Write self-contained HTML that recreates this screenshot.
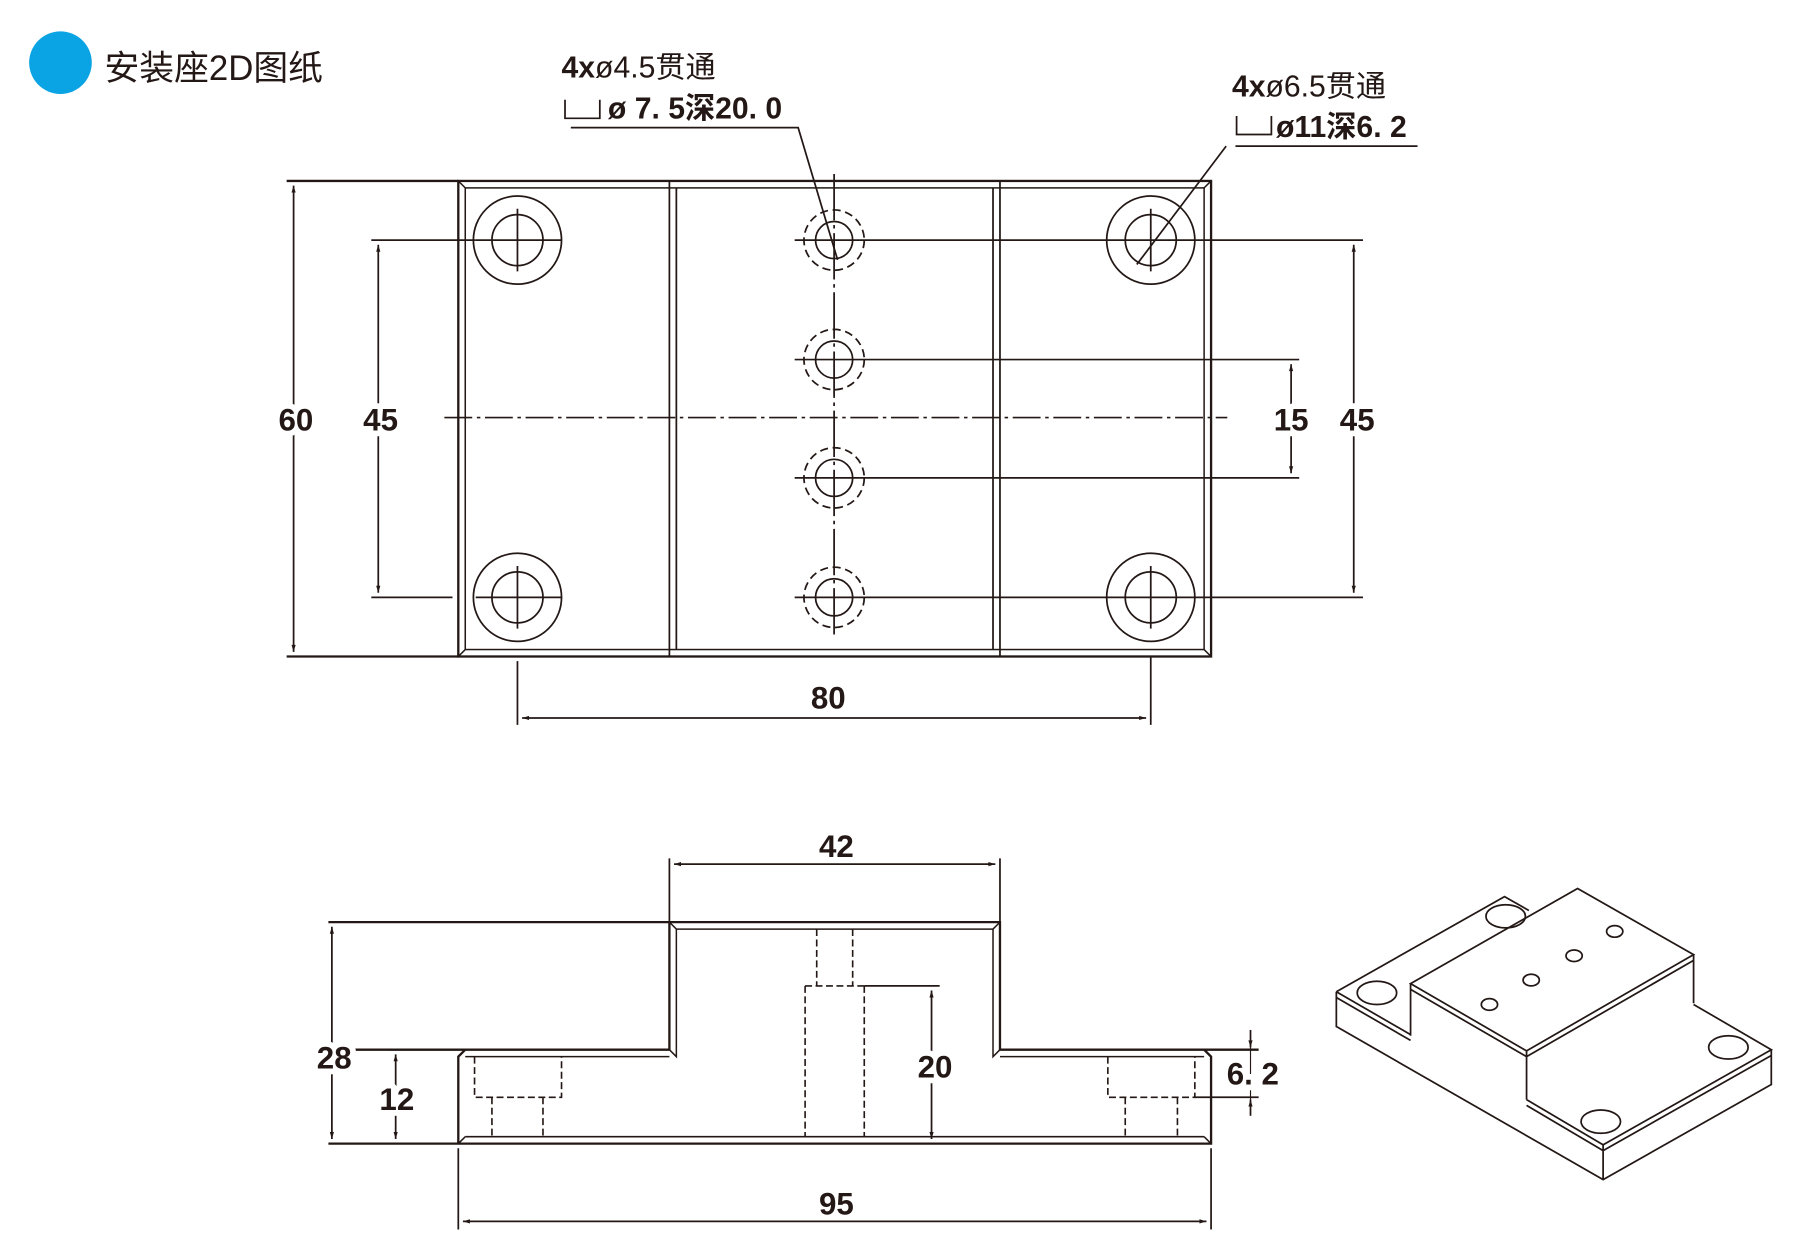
<!DOCTYPE html>
<html><head><meta charset="utf-8"><style>
html,body{margin:0;padding:0;background:#fff;}
svg{display:block;}
text{font-family:"Liberation Sans","Noto Sans CJK SC",sans-serif;fill:#231815;}
.d text{stroke:#fff;stroke-width:10px;paint-order:stroke;stroke-linejoin:round;}
</style></head><body>
<svg width="1819" height="1255" viewBox="0 0 1568 1082" xmlns="http://www.w3.org/2000/svg">
<defs>
<marker id="a" viewBox="0 0 10 10" refX="10" refY="5" markerWidth="10" markerHeight="6" orient="auto-start-reverse" markerUnits="userSpaceOnUse"><path d="M0,2 L10,5 L0,8 Z" fill="#231815"/></marker>
</defs>
<circle cx="52" cy="54" r="27" fill="#0aa3e3"/>
<text x="90" y="69" font-size="30">安装座2D图纸</text>

<g stroke="#231815" fill="none" stroke-width="2">
<rect x="395" y="156" width="649" height="410"/>
<rect x="401" y="162" width="637" height="398" stroke-width="1.3"/>
<path d="M395,156L401,162M1044,156L1038,162M395,566L401,560M1044,566L1038,560" stroke-width="1.3"/>
<path d="M577,156V566M583,162V560M856,162V560M862,156V566" stroke-width="1.5"/>
<path d="M247,156H395M247,566H395"/>
<line x1="253" y1="160" x2="253" y2="562" stroke-width="1.5" marker-start="url(#a)" marker-end="url(#a)"/>
<path d="M320,207H410M320,515H390" stroke-width="1.5"/>
<line x1="326" y1="211" x2="326" y2="511" stroke-width="1.5" marker-start="url(#a)" marker-end="url(#a)"/>
<g stroke-width="1.5">
<circle cx="446" cy="207" r="38"/><circle cx="446" cy="207" r="22"/>
<circle cx="446" cy="515" r="38"/><circle cx="446" cy="515" r="22"/>
<circle cx="992" cy="207" r="38"/><circle cx="992" cy="207" r="22"/>
<circle cx="992" cy="515" r="38"/><circle cx="992" cy="515" r="22"/>
<path d="M446,180V234M410,207H484M446,488V542M410,515H484M992,180V234M992,488V542M992,566V625M446,570V625"/>
</g>
<g stroke-width="1.5">
<circle cx="719" cy="207" r="16"/><circle cx="719" cy="207" r="26" stroke-dasharray="7,4"/>
<circle cx="719" cy="310" r="16"/><circle cx="719" cy="310" r="26" stroke-dasharray="7,4"/>
<circle cx="719" cy="412" r="16"/><circle cx="719" cy="412" r="26" stroke-dasharray="7,4"/>
<circle cx="719" cy="515" r="16"/><circle cx="719" cy="515" r="26" stroke-dasharray="7,4"/>
<path d="M685,207H1175M685,310H1120M685,412H1120M685,515H1175"/>
<line x1="719" y1="150" x2="719" y2="548" stroke-dasharray="40,4,3,4"/>
<line x1="383" y1="360" x2="1058" y2="360" stroke-dasharray="24,4,3,4"/>
</g>
<line x1="1113" y1="314" x2="1113" y2="408" stroke-width="1.5" marker-start="url(#a)" marker-end="url(#a)"/>
<line x1="1167" y1="211" x2="1167" y2="511" stroke-width="1.5" marker-start="url(#a)" marker-end="url(#a)"/>
<line x1="450" y1="619" x2="988" y2="619" stroke-width="1.5" marker-start="url(#a)" marker-end="url(#a)"/>
<path d="M492,110H688L722,224M1065,126H1222M1057,126L980,228" stroke-width="1.5"/>
<path d="M487,86V102H517V86M1066,100V116H1096V100" stroke-width="1.5"/>

<path d="M283,905H577V795M283,795H862V905H1085M283,986H1044V911L1038,905M395,986V911L401,905"/>
<path d="M577,795L583,801H856L862,795M583,801V911L577,905M856,801V911L862,905M401,911H577M862,911H1038M401,980H1038M395,986L401,980M1044,986L1038,980" stroke-width="1.3"/>
<g stroke-width="1.4" stroke-dasharray="6,3">
<path d="M409,911V946H484V911M424,946V980M468,946V980"/>
<path d="M955,911V946H1030V911M970,946V980M1015,946V980"/>
<path d="M704,801V850M735,801V850M694,850H745M694,850V980M745,850V980"/>
</g>
<path d="M745,850H810M1030,946H1085M335,905H395M577,740V800M862,740V800M395,990V1060M1044,990V1060" stroke-width="1.5"/>
<line x1="803" y1="854" x2="803" y2="982" stroke-width="1.5" marker-start="url(#a)" marker-end="url(#a)"/>
<line x1="581" y1="745" x2="858" y2="745" stroke-width="1.5" marker-start="url(#a)" marker-end="url(#a)"/>
<line x1="286" y1="799" x2="286" y2="982" stroke-width="1.5" marker-start="url(#a)" marker-end="url(#a)"/>
<line x1="341" y1="909" x2="341" y2="982" stroke-width="1.5" marker-start="url(#a)" marker-end="url(#a)"/>
<line x1="399" y1="1053" x2="1040" y2="1053" stroke-width="1.5" marker-start="url(#a)" marker-end="url(#a)"/>
<line x1="1078" y1="888" x2="1078" y2="903" stroke-width="1.5" marker-end="url(#a)"/>
<line x1="1078" y1="962" x2="1078" y2="948" stroke-width="1.5" marker-end="url(#a)"/>
<path d="M1078,903V948" stroke-width="1"/>

<g stroke-width="1.5">
<path d="M1152,855V885L1382,1017L1527,935V905"/>
<path d="M1152,855L1297,773L1318,785M1152,855L1216,892M1152,860L1216,897M1216,848V893"/>
<path d="M1216,848L1360,766L1460,823L1316,906Z"/>
<path d="M1216,853L1316,911L1460,828M1316,906V948M1460,823V865"/>
<path d="M1316,948L1382,987L1527,905L1460,866M1316,953L1382,992L1527,910M1382,987V1017"/>
<ellipse cx="1298" cy="790" rx="17" ry="10"/><ellipse cx="1187" cy="856" rx="17" ry="10"/>
<ellipse cx="1490" cy="903" rx="17" ry="10"/><ellipse cx="1380" cy="967" rx="17" ry="10"/>
<ellipse cx="1284" cy="866" rx="7" ry="5"/><ellipse cx="1320" cy="845" rx="7" ry="5"/>
<ellipse cx="1357" cy="824" rx="7" ry="5"/><ellipse cx="1392" cy="803" rx="7" ry="5"/>
</g>
</g>

<g class="d" font-size="27" font-weight="bold">
<text x="255" y="371" text-anchor="middle">60</text>
<text x="328" y="371" text-anchor="middle">45</text>
<text x="1113" y="371" text-anchor="middle">15</text>
<text x="1170" y="371" text-anchor="middle">45</text>
<text x="714" y="611" text-anchor="middle">80</text>
<text x="721" y="739" text-anchor="middle">42</text>
<text x="288" y="921" text-anchor="middle">28</text>
<text x="342" y="957" text-anchor="middle">12</text>
<text x="806" y="929" text-anchor="middle">20</text>
<text x="1080" y="935" text-anchor="middle">6. 2</text>
<text x="721" y="1047" text-anchor="middle">95</text>
</g>
<g font-size="26">
<text x="484" y="67"><tspan font-weight="bold">4x</tspan>ø4.5贯通</text>
<text x="524" y="102" font-weight="bold">ø 7. 5深20. 0</text>
<text x="1062" y="83"><tspan font-weight="bold">4x</tspan>ø6.5贯通</text>
<text x="1100" y="118" font-weight="bold">ø11深6. 2</text>
</g>
</svg>
</body></html>
